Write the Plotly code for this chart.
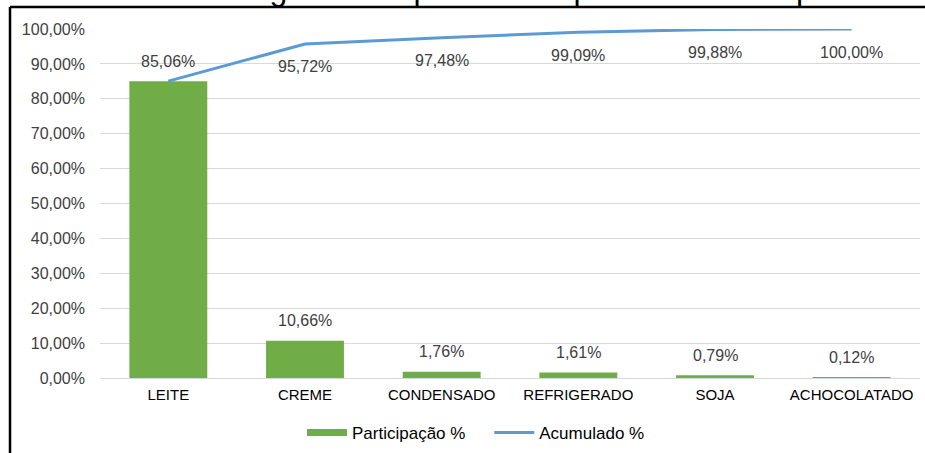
import plotly.graph_objects as go

categories = ["LEITE", "CREME", "CONDENSADO", "REFRIGERADO", "SOJA", "ACHOCOLATADO"]
participacao = [0.8506, 0.1066, 0.0176, 0.0161, 0.0079, 0.0012]
acumulado = [0.8506, 0.9572, 0.9748, 0.9909, 0.9988, 1.0000]
y_ticks = [0, 0.1, 0.2, 0.3, 0.4, 0.5, 0.6, 0.7, 0.8, 0.9, 1.0]
title_text = "Gráfico 1 – Diagrama de pareto dos produtos da empresa"

GREEN = "#70AD47"
BLUE = "#5B9BD5"
FONT = "Liberation Sans, Arial, sans-serif"

W, H = 925, 453
ML, MR, MT, MB = 100, 5, 29, 75
plot_w = W - ML - MR
plot_h = H - MT - MB

def px_x(p):
    return (p - ML) / plot_w

def px_y(p):
    return (H - MB - p) / plot_h

fig = go.Figure()
fig.add_trace(go.Bar(
    x=categories, y=participacao, name="Participação %", showlegend=False,
    marker=dict(color=GREEN, line=dict(width=0)),
))
fig.add_trace(go.Scatter(
    x=categories, y=acumulado, name="Acumulado %", mode="lines", showlegend=False,
    line=dict(color=BLUE, width=3),
))
# legend proxies (Excel-style wide swatches)
fig.add_trace(go.Scatter(x=[None], y=[None], name="Participação %\u00a0\u00a0\u00a0\u00a0",
                         mode="lines", line=dict(color=GREEN, width=7)))
fig.add_trace(go.Scatter(x=[None], y=[None], name="Acumulado %", mode="lines",
                         line=dict(color=BLUE, width=3)))

def fmt(v):
    return f"{v*100:.2f}".replace(".", ",") + "%"

annotations = []
for c, v in zip(categories, participacao):
    annotations.append(dict(x=c, y=v, xref="x", yref="y", text=fmt(v),
                            showarrow=False, yanchor="middle", yshift=20,
                            font=dict(family=FONT, size=16, color="#404040")))
for c, v in list(zip(categories, acumulado))[1:]:
    annotations.append(dict(x=c, y=v, xref="x", yref="y", text=fmt(v),
                            showarrow=False, yanchor="middle", yshift=-23,
                            font=dict(family=FONT, size=16, color="#404040")))
annotations.append(dict(x=px_x(54), y=px_y(9), xref="paper", yref="paper",
                        text=title_text, showarrow=False, xanchor="left",
                        yanchor="bottom",
                        font=dict(family=FONT, size=32, color="#000000")))

shapes = [
    dict(type="line", xref="paper", yref="paper", x0=px_x(10), x1=px_x(930),
         y0=px_y(7), y1=px_y(7), line=dict(color="black", width=2.5)),
    dict(type="line", xref="paper", yref="paper", x0=px_x(10), x1=px_x(10),
         y0=px_y(7), y1=px_y(460), line=dict(color="black", width=2.5)),
]

fig.update_layout(
    width=W, height=H,
    margin=dict(l=ML, r=MR, t=MT, b=MB, autoexpand=False),
    paper_bgcolor="white", plot_bgcolor="white",
    separators=",.",
    bargap=0.43,
    font=dict(family=FONT, size=15, color="#404040"),
    showlegend=True,
    legend=dict(orientation="h", xref="container", yref="container",
                x=476 / W, xanchor="center",
                y=1 - 433 / H, yanchor="middle",
                font=dict(family=FONT, size=17, color="#000000"),
                itemwidth=40, tracegroupgap=0),
    annotations=annotations,
    shapes=shapes,
    xaxis=dict(showgrid=False, showline=True, linecolor="#D9D9D9", linewidth=1,
               tickfont=dict(family=FONT, size=15, color="#000000"),
               ticks="", ticklabelstandoff=3, automargin=False),
    yaxis=dict(range=[0, 1.0], tickvals=y_ticks, tickformat=".2%",
               showgrid=True, gridcolor="#D9D9D9", gridwidth=1,
               zeroline=False, showline=False, ticks="",
               ticklabelstandoff=14, automargin=False,
               tickfont=dict(family=FONT, size=16, color="#404040")),
)

fig.write_html("out.html",
               config={"displayModeBar": False},
               post_script="document.body.style.margin='0';document.body.style.overflow='hidden';")
